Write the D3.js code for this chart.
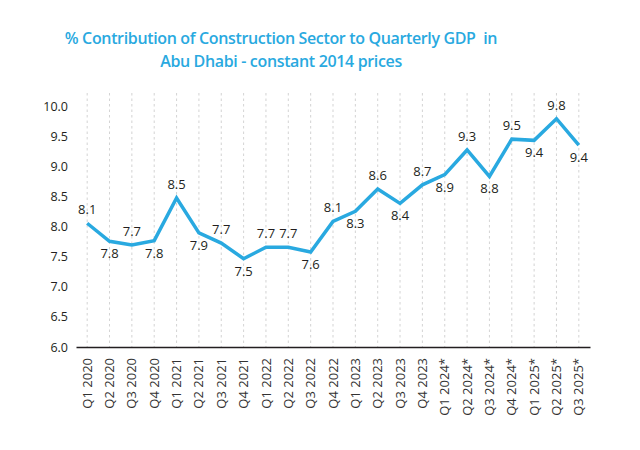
<!DOCTYPE html>
<html>
<head>
<meta charset="utf-8">
<script src="https://cdn.jsdelivr.net/npm/d3@7"></script>
<style>
  body { margin: 0; background: #fff; }
  text { font-family: "Open Sans", sans-serif; }
</style>
</head>
<body>
<div id="chart"></div>
<script>
// Quarters on the x axis
var quarters = ["Q1 2020", "Q2 2020", "Q3 2020", "Q4 2020",
    "Q1 2021", "Q2 2021", "Q3 2021", "Q4 2021",
    "Q1 2022", "Q2 2022", "Q3 2022", "Q4 2022",
    "Q1 2023", "Q2 2023", "Q3 2023", "Q4 2023",
    "Q1 2024*", "Q2 2024*", "Q3 2024*", "Q4 2024*",
    "Q1 2025*", "Q2 2025*", "Q3 2025*"];

// % contribution
var shares = [8.06, 7.76, 7.70, 7.77,
    8.48, 7.90, 7.73, 7.47,
    7.66, 7.66, 7.58, 8.09,
    8.26, 8.63, 8.39, 8.70,
    8.87, 9.28, 8.84, 9.46,
    9.44, 9.80, 9.36];

// labels printed on the chart
var valueLabels = ["8.1", "7.8", "7.7", "7.8",
    "8.5", "7.9", "7.7", "7.5",
    "7.7", "7.7", "7.6", "8.1",
    "8.3", "8.6", "8.4", "8.7",
    "8.9", "9.3", "8.8", "9.5",
    "9.4", "9.8", "9.4"];

// which labels sit above the line
var labelAbove = [1, 0, 1, 0, 1, 0, 1, 0, 1, 1, 0, 1,
    0, 1, 0, 1, 0, 1, 0, 1, 0, 1, 0];

var yTicks = [6.0, 6.5, 7.0, 7.5, 8.0, 8.5, 9.0, 9.5, 10.0];

var titleLines = ["% Contribution of Construction Sector to Quarterly GDP  in",
    "Abu Dhabi - constant 2014 prices"];

var width = 640,
    height = 450,
    margin = { top: 93, right: 50, bottom: 103, left: 76 };

var blue = "#29a9e0";

var svg = d3.select("#chart")
    .append("svg")
    .attr("width", width)
    .attr("height", height);

// Scales
var x = d3.scaleBand()
    .domain(quarters)
    .range([margin.left, width - margin.right]);

var y = d3.scaleLinear()
    .domain([6, 10])
    .range([height - margin.bottom, 106.7]);

var cx = d => x(d) + x.bandwidth() / 2;

// Title
svg.append("g")
    .selectAll("text")
    .data(titleLines)
    .enter().append("text")
    .attr("x", 281)
    .attr("y", (d, i) => 44 + i * 23)
    .attr("text-anchor", "middle")
    .style("white-space", "pre")
    .style("font-size", "16px")
    .style("font-weight", 600)
    .style("letter-spacing", "-0.35px")
    .attr("fill", blue)
    .text(d => d);

// Dashed vertical gridlines
svg.append("g")
    .selectAll("line")
    .data(quarters)
    .enter().append("line")
    .attr("x1", d => cx(d))
    .attr("x2", d => cx(d))
    .attr("y1", margin.top)
    .attr("y2", y(6))
    .attr("stroke", "#c8c8c8")
    .attr("stroke-width", 0.8)
    .attr("stroke-dasharray", "2.5,3");

// Y axis: labels only
var yAxis = svg.append("g")
    .attr("transform", `translate(${margin.left},0)`)
    .call(d3.axisLeft(y).tickValues(yTicks).tickFormat(d3.format(".1f")).tickSize(0).tickPadding(8));
yAxis.select(".domain").remove();
yAxis.selectAll("text")
    .style("font-family", "'Open Sans', sans-serif")
    .style("font-size", "12.5px")
    .attr("fill", "#231f20");

// X axis
var xAxis = svg.append("g")
    .attr("transform", `translate(0,${y(6)})`)
    .call(d3.axisBottom(x).tickSize(0).tickPadding(0));
xAxis.select(".domain")
    .attr("stroke", "#231f20")
    .attr("stroke-width", 1.6);
xAxis.selectAll("text")
    .attr("transform", "rotate(-90)")
    .style("text-anchor", "end")
    .style("font-family", "'Open Sans', sans-serif")
    .style("font-size", "13px")
    .attr("fill", "#333")
    .attr("x", -11)
    .attr("y", 0)
    .attr("dy", "0.35em");

// Line
var line = d3.line()
    .x((d, i) => cx(quarters[i]))
    .y(d => y(d));

svg.append("path")
    .datum(shares)
    .attr("fill", "none")
    .attr("stroke", blue)
    .attr("stroke-width", 3.5)
    .attr("stroke-linejoin", "miter")
    .attr("d", line);

// Value labels
svg.append("g")
    .selectAll("text")
    .data(shares)
    .enter().append("text")
    .attr("x", (d, i) => cx(quarters[i]))
    .attr("y", (d, i) => labelAbove[i] ? y(d) - 9 : y(d) + 17)
    .attr("text-anchor", "middle")
    .style("font-size", "13px")
    .attr("fill", "#231f20")
    .text((d, i) => valueLabels[i]);
</script>
</body>
</html>
